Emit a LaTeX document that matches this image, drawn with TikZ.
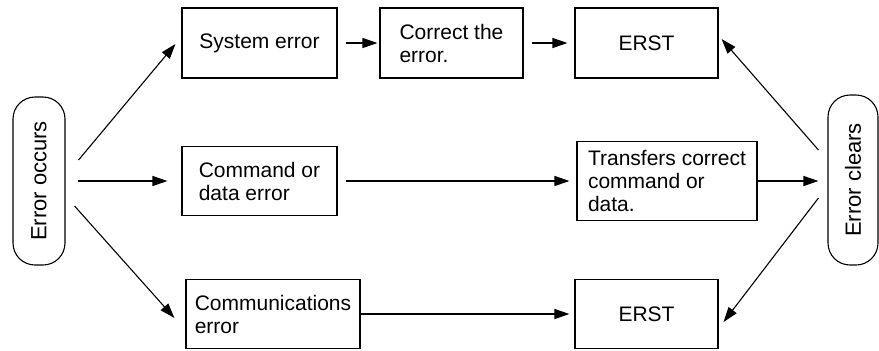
\documentclass[tikz,border=0pt]{standalone}
\usepackage{fontspec}
\setmainfont{Liberation Sans}
\usetikzlibrary{arrows.meta, calc}

\begin{document}
\begin{tikzpicture}[
    x=0.5pt, y=-0.5pt,
    every node/.style={font=\fontsize{10.5}{11.5}\selectfont},
    arr/.style={-{Triangle[length=7.5pt, width=5pt]}, line width=0.55pt},
    box/.style={rectangle, draw, line width=0.55pt, align=left, inner sep=0pt, minimum height=35pt},
    pill/.style={rectangle, draw, line width=0.55pt, rounded corners=11pt, inner sep=0pt, minimum width=26pt, minimum height=84pt, font=\fontsize{11}{12}\selectfont},
]
\useasboundingbox (0,0) rectangle (879,350);

% Start and end states
\node[pill] (occurs) at (39,181) {\rotatebox{90}{Error occurs}};
\node[pill, minimum width=25pt, minimum height=85pt] (clears) at (853,180) {\rotatebox{90}{Error clears}};

% Top row
\node[box, minimum width=77.5pt] (sys) at (259.5,43) {System error};
\node[box, minimum width=71.5pt] (fix) at (451.5,43) {Correct the\\error.};
\node[box, minimum width=71.5pt] (erstA) at (646.5,43) {ERST};

% Middle row
\node[box, minimum width=77.5pt, minimum height=34.5pt] (cmd) at (259.5,181) {Command or\\data error};
\node[box, minimum width=90pt, minimum height=39.5pt] (resend) at (667,181) {Transfers correct\\command or\\data.};

% Bottom row
\node[box, minimum width=87pt, minimum height=34.5pt] (comm) at (273,314) {Communications\\error};
\node[box, minimum width=71.5pt, minimum height=34.5pt] (erstB) at (646.5,314) {ERST};

% From error occurs
\draw[arr] ($(occurs.east)+(13,-21)$) -- ($(sys.west)+(-6,1)$);
\draw[arr, shorten <=6pt, shorten >=7pt] (occurs.east) -- (cmd.west);
\draw[arr] ($(occurs.east)+(9,25)$) -- ($(comm.west)+(-11,4)$);

% Along the rows
\draw[arr, shorten <=4pt, shorten >=1pt] (sys) -- (fix);
\draw[arr, shorten <=4pt, shorten >=3.5pt] (fix) -- (erstA);
\draw[arr, shorten <=4pt, shorten >=3.5pt] (cmd) -- (resend);
\draw[arr, shorten >=4.5pt] (resend.east) -- (resend.east -| clears.west);
\draw[arr, shorten >=2.5pt] (comm) -- (erstB);

% Error clears
\draw[arr] ($(clears.west)+(-9,-30)$) -- ($(erstA.east)+(3,-4)$);
\draw[arr] ($(clears.west)+(-9,18)$) -- ($(erstB.east)+(5,8)$);

\end{tikzpicture}
\end{document}
